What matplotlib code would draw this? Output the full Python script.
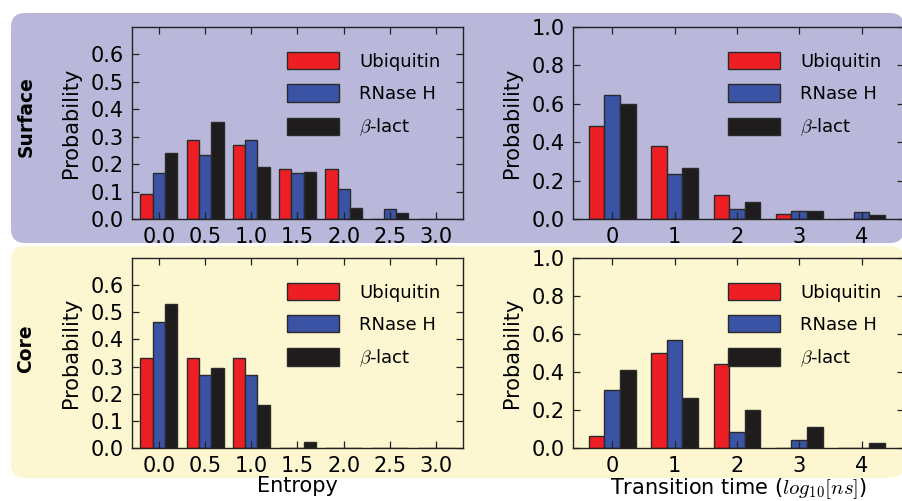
import matplotlib
matplotlib.use("Agg")
import matplotlib.pyplot as plt
from matplotlib.patches import FancyBboxPatch
import numpy as np

plt.rcParams['font.family'] = ['DejaVu Sans']
plt.rcParams['mathtext.fontset'] = 'cm'

# ---------------- data ----------------
series_names = ['Ubiquitin', 'RNase H', r'$\beta$-lact']
series_colors = ['#ed1f24', '#3a53a4', '#1e1c1d']

entropy_bins = [0.0, 0.5, 1.0, 1.5, 2.0, 2.5, 3.0]
entropy_ticklabels = ['0.0', '0.5', '1.0', '1.5', '2.0', '2.5', '3.0']
time_bins = [0, 1, 2, 3, 4]
time_ticklabels = ['0', '1', '2', '3', '4']

surface_entropy_ubiquitin = [0.090, 0.287, 0.269, 0.181, 0.181, 0.0, 0.0]
surface_entropy_rnaseh = [0.169, 0.233, 0.289, 0.169, 0.111, 0.038, 0.0]
surface_entropy_blact = [0.240, 0.353, 0.191, 0.172, 0.039, 0.022, 0.0]

surface_time_ubiquitin = [0.484, 0.378, 0.126, 0.028, 0.0]
surface_time_rnaseh = [0.645, 0.234, 0.052, 0.044, 0.038]
surface_time_blact = [0.601, 0.264, 0.091, 0.042, 0.023]

core_entropy_ubiquitin = [0.333, 0.333, 0.333, 0.0, 0.0, 0.0, 0.0]
core_entropy_rnaseh = [0.465, 0.268, 0.268, 0.0, 0.0, 0.0, 0.0]
core_entropy_blact = [0.529, 0.295, 0.158, 0.021, 0.0, 0.0, 0.0]

core_time_ubiquitin = [0.063, 0.501, 0.440, 0.0, 0.0]
core_time_rnaseh = [0.305, 0.567, 0.086, 0.042, 0.0]
core_time_blact = [0.410, 0.261, 0.202, 0.112, 0.026]

entropy_yticks = [0.0, 0.1, 0.2, 0.3, 0.4, 0.5, 0.6]
time_yticks = [0.0, 0.2, 0.4, 0.6, 0.8, 1.0]

# ---------------- figure ----------------
W, H = 903, 501
fig = plt.figure(figsize=(W / 100, H / 100), dpi=100)
fig.patch.set_facecolor('white')

def px_box(x0, y0, x1, y1, color, r=14):
    p = FancyBboxPatch((x0 / 100, (H - y1) / 100), (x1 - x0) / 100, (y1 - y0) / 100,
                       boxstyle='round,pad=0,rounding_size=%f' % (r / 100),
                       transform=fig.dpi_scale_trans, facecolor=color,
                       edgecolor='none', zorder=-10)
    fig.patches.append(p)

px_box(11, 13, 904, 243, '#b9b8da')
px_box(11, 246, 904, 478, '#fcf7d0')

def add_axes_px(x0, y0, x1, y1):
    return fig.add_axes([x0 / W, (H - y1) / H, (x1 - x0) / W, (y1 - y0) / H])

def style_axes(ax):
    ax.set_facecolor('none')
    for s in ax.spines.values():
        s.set_color('#222222')
        s.set_linewidth(1.0)
    ax.tick_params(direction='in', top=True, right=True, length=5, width=0.9,
                   color='#222222', labelsize=15, pad=6)
    ax.set_ylabel('Probability', fontsize=15)

def draw(ax, bins, series, width, xlim, ylim, yticks, xticklabels):
    x = np.array(bins, dtype=float)
    handles = []
    for i, (vals, c) in enumerate(zip(series, series_colors)):
        b = ax.bar(x + (i - 1) * width, vals, width=width, color=c,
                   edgecolor='#2a2a2a', linewidth=1.0, align='center')
        handles.append(b)
    ax.set_xlim(*xlim)
    ax.set_ylim(*ylim)
    ax.set_yticks(yticks)
    ax.set_yticklabels(['%.1f' % v for v in yticks])
    ax.set_xticks(bins)
    ax.set_xticklabels(xticklabels)
    style_axes(ax)
    ax.legend(handles, series_names, loc='upper left',
              bbox_to_anchor=(0.468, 0.87), frameon=False, fontsize=13,
              handlelength=2.9, handleheight=1.1, labelspacing=0.75,
              handletextpad=1.1, borderpad=0, borderaxespad=0)

ax1 = add_axes_px(132, 27, 463, 219)
draw(ax1, entropy_bins, [surface_entropy_ubiquitin, surface_entropy_rnaseh, surface_entropy_blact],
     0.5 * 0.8 / 3, (-0.29, 3.29), (0, 0.7), entropy_yticks, entropy_ticklabels)

ax2 = add_axes_px(573, 27, 904, 219)
draw(ax2, time_bins, [surface_time_ubiquitin, surface_time_rnaseh, surface_time_blact],
     0.25, (-0.63, 4.68), (0, 1.0), time_yticks, time_ticklabels)

ax3 = add_axes_px(132, 258, 463, 448)
draw(ax3, entropy_bins, [core_entropy_ubiquitin, core_entropy_rnaseh, core_entropy_blact],
     0.5 * 0.8 / 3, (-0.29, 3.29), (0, 0.7), entropy_yticks, entropy_ticklabels)
ax3.set_xlabel('Entropy', fontsize=15, labelpad=0)

ax4 = add_axes_px(573, 258, 904, 448)
draw(ax4, time_bins, [core_time_ubiquitin, core_time_rnaseh, core_time_blact],
     0.25, (-0.63, 4.68), (0, 1.0), time_yticks, time_ticklabels)
ax4.set_xlabel(r'Transition time ($log_{10}[ns]$)', fontsize=15, labelpad=0)

for ax in (ax1, ax2, ax3, ax4):
    ax.yaxis.set_label_coords(-0.155, 0.5)

fig.text(26 / W, 1 - 117 / H, 'Surface', rotation=90, fontsize=13.5,
         fontweight='bold', ha='center', va='center')
fig.text(26 / W, 1 - 349 / H, 'Core', rotation=90, fontsize=13.5,
         fontweight='bold', ha='center', va='center')

fig.savefig('out.png', dpi=100)
